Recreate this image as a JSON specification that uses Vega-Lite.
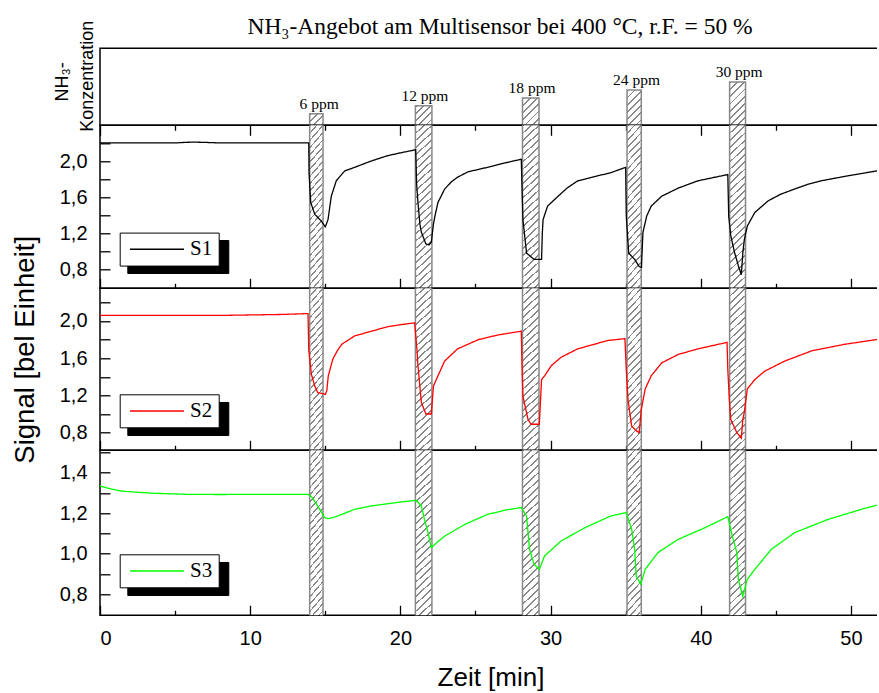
{
 "$schema": "https://vega.github.io/schema/vega-lite/v6.json",
 "background": "white",
 "padding": {"left": 10, "top": 14.3, "right": -5, "bottom": 0},
 "bounds": "flush",
 "spacing": 0,
 "config": {
  "view": {"stroke": "black", "strokeWidth": 1.5},
  "locale": {"number": {"decimal": ",", "thousands": ".", "grouping": [3], "currency": ["", " €"]}},
  "axis": {"labelFont": "Liberation Sans", "titleFont": "Liberation Sans", "labelColor": "black", "titleColor": "black", "tickColor": "black", "tickWidth": 1.3, "titleFontWeight": "normal", "grid": false, "domain": false}
 },
 "resolve": {
  "scale": {"x": "independent", "y": "independent", "color": "independent", "strokeDash": "independent"},
  "legend": {"color": "independent", "strokeDash": "independent"}
 },
 "datasets": {
  "ppm": [
   {"ppm": 6, "start": 13.96, "end": 14.85, "label": "6 ppm"},
   {"ppm": 12, "start": 21.0, "end": 22.1, "label": "12 ppm"},
   {"ppm": 18, "start": 28.13, "end": 29.23, "label": "18 ppm"},
   {"ppm": 24, "start": 35.09, "end": 36.04, "label": "24 ppm"},
   {"ppm": 30, "start": 41.92, "end": 42.98, "label": "30 ppm"}
  ],
  "s1": [
   {"t":0,"v":2.2,"s":"S1"},{"t":1.5,"v":2.2,"s":"S1"},{"t":3,"v":2.2,"s":"S1"},{"t":5,"v":2.2,"s":"S1"},{"t":5.5,"v":2.205,"s":"S1"},{"t":6.2,"v":2.21,"s":"S1"},{"t":7.2,"v":2.205,"s":"S1"},{"t":8,"v":2.2,"s":"S1"},{"t":10,"v":2.2,"s":"S1"},{"t":12,"v":2.2,"s":"S1"},{"t":13.9,"v":2.2,"s":"S1"},
   {"t":13.92,"v":1.87,"s":"S1"},{"t":14.03,"v":1.54,"s":"S1"},{"t":14.3,"v":1.41,"s":"S1"},{"t":14.73,"v":1.335,"s":"S1"},{"t":15.0,"v":1.27,"s":"S1"},{"t":15.18,"v":1.35,"s":"S1"},{"t":15.4,"v":1.61,"s":"S1"},{"t":15.73,"v":1.78,"s":"S1"},{"t":16.29,"v":1.89,"s":"S1"},{"t":16.96,"v":1.93,"s":"S1"},{"t":18.06,"v":2.0,"s":"S1"},{"t":19.17,"v":2.06,"s":"S1"},{"t":20.0,"v":2.09,"s":"S1"},{"t":21.02,"v":2.125,"s":"S1"},
   {"t":21.08,"v":1.75,"s":"S1"},{"t":21.17,"v":1.54,"s":"S1"},{"t":21.3,"v":1.3,"s":"S1"},{"t":21.4,"v":1.21,"s":"S1"},{"t":21.7,"v":1.08,"s":"S1"},{"t":21.9,"v":1.07,"s":"S1"},{"t":22.06,"v":1.1,"s":"S1"},{"t":22.2,"v":1.3,"s":"S1"},{"t":22.3,"v":1.39,"s":"S1"},{"t":22.5,"v":1.54,"s":"S1"},{"t":22.95,"v":1.69,"s":"S1"},{"t":23.4,"v":1.77,"s":"S1"},{"t":23.8,"v":1.82,"s":"S1"},{"t":24.5,"v":1.88,"s":"S1"},{"t":25.8,"v":1.93,"s":"S1"},{"t":27.0,"v":1.98,"s":"S1"},{"t":28.05,"v":2.02,"s":"S1"},
   {"t":28.1,"v":1.7,"s":"S1"},{"t":28.16,"v":1.35,"s":"S1"},{"t":28.4,"v":0.98,"s":"S1"},{"t":28.9,"v":0.91,"s":"S1"},{"t":29.4,"v":0.91,"s":"S1"},{"t":29.45,"v":1.2,"s":"S1"},{"t":29.5,"v":1.35,"s":"S1"},{"t":29.8,"v":1.5,"s":"S1"},{"t":30.5,"v":1.61,"s":"S1"},{"t":31.1,"v":1.7,"s":"S1"},{"t":31.8,"v":1.78,"s":"S1"},{"t":33.0,"v":1.83,"s":"S1"},{"t":34.0,"v":1.87,"s":"S1"},{"t":35.0,"v":1.93,"s":"S1"},
   {"t":35.04,"v":1.39,"s":"S1"},{"t":35.2,"v":0.98,"s":"S1"},{"t":35.6,"v":0.91,"s":"S1"},{"t":35.9,"v":0.83,"s":"S1"},{"t":36.05,"v":0.82,"s":"S1"},{"t":36.15,"v":1.21,"s":"S1"},{"t":36.4,"v":1.39,"s":"S1"},{"t":36.7,"v":1.5,"s":"S1"},{"t":37.4,"v":1.61,"s":"S1"},{"t":38.5,"v":1.7,"s":"S1"},{"t":39.8,"v":1.78,"s":"S1"},{"t":41.8,"v":1.85,"s":"S1"},
   {"t":41.86,"v":1.39,"s":"S1"},{"t":42.0,"v":1.17,"s":"S1"},{"t":42.26,"v":0.98,"s":"S1"},{"t":42.5,"v":0.84,"s":"S1"},{"t":42.7,"v":0.74,"s":"S1"},{"t":42.8,"v":0.98,"s":"S1"},{"t":42.9,"v":1.13,"s":"S1"},{"t":43.1,"v":1.28,"s":"S1"},{"t":43.6,"v":1.43,"s":"S1"},{"t":44.5,"v":1.56,"s":"S1"},{"t":45.3,"v":1.63,"s":"S1"},{"t":46.25,"v":1.69,"s":"S1"},{"t":47.1,"v":1.74,"s":"S1"},{"t":48.0,"v":1.78,"s":"S1"},{"t":49.6,"v":1.83,"s":"S1"},{"t":51.7,"v":1.89,"s":"S1"},{"t":52,"v":1.895,"s":"S1"}
  ],
  "s2": [
   {"t":0,"v":2.06,"s":"S2"},{"t":5,"v":2.06,"s":"S2"},{"t":8,"v":2.06,"s":"S2"},{"t":10,"v":2.065,"s":"S2"},{"t":12,"v":2.07,"s":"S2"},{"t":13.0,"v":2.075,"s":"S2"},{"t":13.85,"v":2.08,"s":"S2"},
   {"t":13.9,"v":1.69,"s":"S2"},{"t":14.07,"v":1.43,"s":"S2"},{"t":14.3,"v":1.3,"s":"S2"},{"t":14.5,"v":1.23,"s":"S2"},{"t":15.0,"v":1.21,"s":"S2"},{"t":15.1,"v":1.25,"s":"S2"},{"t":15.2,"v":1.41,"s":"S2"},{"t":15.5,"v":1.59,"s":"S2"},{"t":15.8,"v":1.68,"s":"S2"},{"t":16.1,"v":1.75,"s":"S2"},{"t":16.96,"v":1.84,"s":"S2"},{"t":18.06,"v":1.89,"s":"S2"},{"t":19.2,"v":1.94,"s":"S2"},{"t":20.0,"v":1.96,"s":"S2"},{"t":20.95,"v":1.98,"s":"S2"},
   {"t":21.1,"v":1.7,"s":"S2"},{"t":21.17,"v":1.52,"s":"S2"},{"t":21.4,"v":1.12,"s":"S2"},{"t":21.7,"v":1.0,"s":"S2"},{"t":22.06,"v":1.0,"s":"S2"},{"t":22.2,"v":1.3,"s":"S2"},{"t":22.5,"v":1.41,"s":"S2"},{"t":22.95,"v":1.57,"s":"S2"},{"t":23.8,"v":1.7,"s":"S2"},{"t":25.2,"v":1.8,"s":"S2"},{"t":26.5,"v":1.85,"s":"S2"},{"t":28.05,"v":1.89,"s":"S2"},
   {"t":28.1,"v":1.5,"s":"S2"},{"t":28.16,"v":1.19,"s":"S2"},{"t":28.5,"v":0.94,"s":"S2"},{"t":28.7,"v":0.89,"s":"S2"},{"t":29.25,"v":0.89,"s":"S2"},{"t":29.4,"v":1.37,"s":"S2"},{"t":29.6,"v":1.41,"s":"S2"},{"t":30.05,"v":1.52,"s":"S2"},{"t":30.7,"v":1.61,"s":"S2"},{"t":31.8,"v":1.7,"s":"S2"},{"t":33.8,"v":1.79,"s":"S2"},{"t":34.95,"v":1.81,"s":"S2"},
   {"t":35.04,"v":1.48,"s":"S2"},{"t":35.15,"v":1.16,"s":"S2"},{"t":35.4,"v":0.87,"s":"S2"},{"t":35.7,"v":0.82,"s":"S2"},{"t":35.9,"v":0.8,"s":"S2"},{"t":36.04,"v":1.05,"s":"S2"},{"t":36.3,"v":1.27,"s":"S2"},{"t":36.7,"v":1.41,"s":"S2"},{"t":37.4,"v":1.55,"s":"S2"},{"t":38.5,"v":1.64,"s":"S2"},{"t":39.8,"v":1.7,"s":"S2"},{"t":41.75,"v":1.77,"s":"S2"},
   {"t":41.8,"v":1.48,"s":"S2"},{"t":41.9,"v":1.16,"s":"S2"},{"t":42.0,"v":0.94,"s":"S2"},{"t":42.4,"v":0.8,"s":"S2"},{"t":42.7,"v":0.74,"s":"S2"},{"t":42.8,"v":0.94,"s":"S2"},{"t":42.9,"v":1.02,"s":"S2"},{"t":43.1,"v":1.27,"s":"S2"},{"t":43.6,"v":1.37,"s":"S2"},{"t":44.25,"v":1.46,"s":"S2"},{"t":45.6,"v":1.57,"s":"S2"},{"t":47.4,"v":1.68,"s":"S2"},{"t":49.6,"v":1.75,"s":"S2"},{"t":51.7,"v":1.8,"s":"S2"},{"t":52,"v":1.8,"s":"S2"}
  ],
  "s3": [
   {"t":0,"v":1.334,"s":"S3"},{"t":0.7,"v":1.32,"s":"S3"},{"t":1.4,"v":1.309,"s":"S3"},{"t":2.5,"v":1.303,"s":"S3"},{"t":3.6,"v":1.298,"s":"S3"},{"t":5.8,"v":1.293,"s":"S3"},{"t":8,"v":1.292,"s":"S3"},{"t":10.3,"v":1.293,"s":"S3"},{"t":13.85,"v":1.293,"s":"S3"},
   {"t":14.1,"v":1.28,"s":"S3"},{"t":14.5,"v":1.235,"s":"S3"},{"t":14.96,"v":1.178,"s":"S3"},{"t":15.2,"v":1.173,"s":"S3"},{"t":15.6,"v":1.18,"s":"S3"},{"t":16.1,"v":1.194,"s":"S3"},{"t":16.96,"v":1.219,"s":"S3"},{"t":18.0,"v":1.235,"s":"S3"},{"t":19.2,"v":1.247,"s":"S3"},{"t":20.0,"v":1.255,"s":"S3"},{"t":21.06,"v":1.263,"s":"S3"},
   {"t":21.4,"v":1.235,"s":"S3"},{"t":21.6,"v":1.17,"s":"S3"},{"t":21.84,"v":1.104,"s":"S3"},{"t":22.06,"v":1.03,"s":"S3"},{"t":22.5,"v":1.06,"s":"S3"},{"t":22.95,"v":1.087,"s":"S3"},{"t":24.3,"v":1.145,"s":"S3"},{"t":25.8,"v":1.194,"s":"S3"},{"t":27.0,"v":1.215,"s":"S3"},{"t":28.05,"v":1.228,"s":"S3"},
   {"t":28.4,"v":1.186,"s":"S3"},{"t":28.6,"v":1.022,"s":"S3"},{"t":28.9,"v":0.948,"s":"S3"},{"t":29.25,"v":0.923,"s":"S3"},{"t":29.6,"v":0.989,"s":"S3"},{"t":30.7,"v":1.063,"s":"S3"},{"t":32.3,"v":1.129,"s":"S3"},{"t":34.0,"v":1.186,"s":"S3"},{"t":35.04,"v":1.203,"s":"S3"},
   {"t":35.4,"v":1.12,"s":"S3"},{"t":35.6,"v":1.022,"s":"S3"},{"t":35.7,"v":0.89,"s":"S3"},{"t":36.0,"v":0.849,"s":"S3"},{"t":36.3,"v":0.923,"s":"S3"},{"t":37.15,"v":1.006,"s":"S3"},{"t":38.5,"v":1.071,"s":"S3"},{"t":40.3,"v":1.129,"s":"S3"},{"t":41.8,"v":1.183,"s":"S3"},
   {"t":42.1,"v":1.087,"s":"S3"},{"t":42.4,"v":1.006,"s":"S3"},{"t":42.5,"v":0.874,"s":"S3"},{"t":42.8,"v":0.79,"s":"S3"},{"t":43.1,"v":0.874,"s":"S3"},{"t":43.6,"v":0.923,"s":"S3"},{"t":44.7,"v":1.022,"s":"S3"},{"t":46.25,"v":1.104,"s":"S3"},{"t":48.5,"v":1.17,"s":"S3"},{"t":50.7,"v":1.219,"s":"S3"},{"t":51.7,"v":1.239,"s":"S3"},{"t":52,"v":1.242,"s":"S3"}
  ]
 },
 "vconcat": [
  {
   "width": 781, "height": 77,
   "title": {"text": "NH₃-Angebot am Multisensor bei 400 °C, r.F. = 50 %", "font": "Liberation Serif", "fontSize": 23.5, "fontWeight": "normal", "color": "black", "anchor": "middle", "frame": "group", "baseline": "alphabetic", "offset": -37.4, "dx": 9.5},
   "data": {"name": "ppm"},
   "resolve": {"axis": {"y": "independent"}},
   "encoding": {
    "x": {"field": "start", "type": "quantitative", "scale": {"domain": [0, 52], "nice": false, "zero": false},
          "axis": {"orient": "bottom", "title": null, "labels": false, "values": [0,5,10,15,20,25,30,35,40,45,50], "tickSize": {"condition": {"test": "datum.value % 10 === 0", "value": 10}, "value": 5}}}
   },
   "layer": [
    {"transform": [{"filter": "datum.ppm === 6"}], "mark": {"type": "rect", "stroke": "#888", "strokeWidth": 1.5, "fill": {"gradient": "linear", "x1": 0, "y1": 0, "x2": 7.731, "y2": 6.655, "stops": [{"offset":0,"color":"#888"},{"offset":0.01,"color":"#888"},{"offset":0.01,"color":"#fff"},{"offset":0.04,"color":"#fff"},{"offset":0.04,"color":"#888"},{"offset":0.05,"color":"#888"},{"offset":0.05,"color":"#fff"},{"offset":0.08,"color":"#fff"},{"offset":0.08,"color":"#888"},{"offset":0.09,"color":"#888"},{"offset":0.09,"color":"#fff"},{"offset":0.12,"color":"#fff"},{"offset":0.12,"color":"#888"},{"offset":0.13,"color":"#888"},{"offset":0.13,"color":"#fff"},{"offset":0.16,"color":"#fff"},{"offset":0.16,"color":"#888"},{"offset":0.17,"color":"#888"},{"offset":0.17,"color":"#fff"},{"offset":0.2,"color":"#fff"}]}},
     "encoding": {"y": {"field": "ppm", "type": "quantitative", "scale": {"domain": [-2.68, 55.4], "nice": false, "zero": false}, "axis": {"orient": "left", "title": "Konzentration", "ticks": false, "labels": false, "titleFontSize": 18, "titleX": -12.5, "titleY": 27.5, "titleAngle": 270, "titleAlign": "center", "titleBaseline": "middle"}}, "x2": {"field": "end"}, "y2": {"datum": -2.68}}},
    {"transform": [{"filter": "datum.ppm === 12"}], "mark": {"type": "rect", "stroke": "#888", "strokeWidth": 1.5, "fill": {"gradient": "linear", "x1": 0, "y1": 0, "x2": 4.563, "y2": 5.376, "stops": [{"offset":0,"color":"#888"},{"offset":0.01,"color":"#888"},{"offset":0.01,"color":"#fff"},{"offset":0.04,"color":"#fff"},{"offset":0.04,"color":"#888"},{"offset":0.05,"color":"#888"},{"offset":0.05,"color":"#fff"},{"offset":0.08,"color":"#fff"},{"offset":0.08,"color":"#888"},{"offset":0.09,"color":"#888"},{"offset":0.09,"color":"#fff"},{"offset":0.12,"color":"#fff"},{"offset":0.12,"color":"#888"},{"offset":0.13,"color":"#888"},{"offset":0.13,"color":"#fff"},{"offset":0.16,"color":"#fff"},{"offset":0.16,"color":"#888"},{"offset":0.17,"color":"#888"},{"offset":0.17,"color":"#fff"},{"offset":0.2,"color":"#fff"},{"offset":0.2,"color":"#888"},{"offset":0.21,"color":"#888"},{"offset":0.21,"color":"#fff"},{"offset":0.24,"color":"#fff"}]}},
     "encoding": {"y": {"field": "ppm", "type": "quantitative", "scale": {"domain": [-2.68, 55.4], "nice": false, "zero": false}, "axis": null}, "x2": {"field": "end"}, "y2": {"datum": -2.68}}},
    {"transform": [{"filter": "datum.ppm === 18"}], "mark": {"type": "rect", "stroke": "#888", "strokeWidth": 1.5, "fill": {"gradient": "linear", "x1": 0, "y1": 0, "x2": 2.902, "y2": 4.816, "stops": [{"offset":0,"color":"#888"},{"offset":0.01,"color":"#888"},{"offset":0.01,"color":"#fff"},{"offset":0.04,"color":"#fff"},{"offset":0.04,"color":"#888"},{"offset":0.05,"color":"#888"},{"offset":0.05,"color":"#fff"},{"offset":0.08,"color":"#fff"},{"offset":0.08,"color":"#888"},{"offset":0.09,"color":"#888"},{"offset":0.09,"color":"#fff"},{"offset":0.12,"color":"#fff"},{"offset":0.12,"color":"#888"},{"offset":0.13,"color":"#888"},{"offset":0.13,"color":"#fff"},{"offset":0.16,"color":"#fff"},{"offset":0.16,"color":"#888"},{"offset":0.17,"color":"#888"},{"offset":0.17,"color":"#fff"},{"offset":0.2,"color":"#fff"},{"offset":0.2,"color":"#888"},{"offset":0.21,"color":"#888"},{"offset":0.21,"color":"#fff"},{"offset":0.24,"color":"#fff"},{"offset":0.24,"color":"#888"},{"offset":0.25,"color":"#888"},{"offset":0.25,"color":"#fff"},{"offset":0.28,"color":"#fff"}]}},
     "encoding": {"y": {"field": "ppm", "type": "quantitative", "scale": {"domain": [-2.68, 55.4], "nice": false, "zero": false}, "axis": null}, "x2": {"field": "end"}, "y2": {"datum": -2.68}}},
    {"transform": [{"filter": "datum.ppm === 24"}], "mark": {"type": "rect", "stroke": "#888", "strokeWidth": 1.5, "fill": {"gradient": "linear", "x1": 0, "y1": 0, "x2": 1.766, "y2": 4.377, "stops": [{"offset":0,"color":"#888"},{"offset":0.01,"color":"#888"},{"offset":0.01,"color":"#fff"},{"offset":0.04,"color":"#fff"},{"offset":0.04,"color":"#888"},{"offset":0.05,"color":"#888"},{"offset":0.05,"color":"#fff"},{"offset":0.08,"color":"#fff"},{"offset":0.08,"color":"#888"},{"offset":0.09,"color":"#888"},{"offset":0.09,"color":"#fff"},{"offset":0.12,"color":"#fff"},{"offset":0.12,"color":"#888"},{"offset":0.13,"color":"#888"},{"offset":0.13,"color":"#fff"},{"offset":0.16,"color":"#fff"},{"offset":0.16,"color":"#888"},{"offset":0.17,"color":"#888"},{"offset":0.17,"color":"#fff"},{"offset":0.2,"color":"#fff"},{"offset":0.2,"color":"#888"},{"offset":0.21,"color":"#888"},{"offset":0.21,"color":"#fff"},{"offset":0.24,"color":"#fff"},{"offset":0.24,"color":"#888"},{"offset":0.25,"color":"#888"},{"offset":0.25,"color":"#fff"},{"offset":0.28,"color":"#fff"},{"offset":0.28,"color":"#888"},{"offset":0.29,"color":"#888"},{"offset":0.29,"color":"#fff"},{"offset":0.32,"color":"#fff"}]}},
     "encoding": {"y": {"field": "ppm", "type": "quantitative", "scale": {"domain": [-2.68, 55.4], "nice": false, "zero": false}, "axis": null}, "x2": {"field": "end"}, "y2": {"datum": -2.68}}},
    {"transform": [{"filter": "datum.ppm === 30"}], "mark": {"type": "rect", "stroke": "#888", "strokeWidth": 1.5, "fill": {"gradient": "linear", "x1": 0, "y1": 0, "x2": 1.345, "y2": 3.66, "stops": [{"offset":0,"color":"#888"},{"offset":0.01,"color":"#888"},{"offset":0.01,"color":"#fff"},{"offset":0.04,"color":"#fff"},{"offset":0.04,"color":"#888"},{"offset":0.05,"color":"#888"},{"offset":0.05,"color":"#fff"},{"offset":0.08,"color":"#fff"},{"offset":0.08,"color":"#888"},{"offset":0.09,"color":"#888"},{"offset":0.09,"color":"#fff"},{"offset":0.12,"color":"#fff"},{"offset":0.12,"color":"#888"},{"offset":0.13,"color":"#888"},{"offset":0.13,"color":"#fff"},{"offset":0.16,"color":"#fff"},{"offset":0.16,"color":"#888"},{"offset":0.17,"color":"#888"},{"offset":0.17,"color":"#fff"},{"offset":0.2,"color":"#fff"},{"offset":0.2,"color":"#888"},{"offset":0.21,"color":"#888"},{"offset":0.21,"color":"#fff"},{"offset":0.24,"color":"#fff"},{"offset":0.24,"color":"#888"},{"offset":0.25,"color":"#888"},{"offset":0.25,"color":"#fff"},{"offset":0.28,"color":"#fff"},{"offset":0.28,"color":"#888"},{"offset":0.29,"color":"#888"},{"offset":0.29,"color":"#fff"},{"offset":0.32,"color":"#fff"},{"offset":0.32,"color":"#888"},{"offset":0.33,"color":"#888"},{"offset":0.33,"color":"#fff"},{"offset":0.36,"color":"#fff"}]}},
     "encoding": {"y": {"field": "ppm", "type": "quantitative", "scale": {"domain": [-2.68, 55.4], "nice": false, "zero": false}, "axis": null}, "x2": {"field": "end"}, "y2": {"datum": -2.68}}},
    {"mark": {"type": "text", "font": "Liberation Serif", "fontSize": 15.5, "baseline": "alphabetic", "align": "center", "dx": 9.5, "dy": -5, "color": "black"},
     "encoding": {"y": {"field": "ppm", "type": "quantitative", "scale": {"domain": [-2.68, 55.4], "nice": false, "zero": false}, "axis": {"orient": "left", "title": "NH₃-", "ticks": false, "labels": false, "titleFontSize": 18, "titleX": -37.5, "titleY": 33, "titleAngle": 270, "titleAlign": "center", "titleBaseline": "middle"}}, "text": {"field": "label"}}}
   ]
  },
  {
   "width": 781, "height": 163,
   "layer": [
    {"data": {"name": "ppm"}, "mark": {"type": "rect", "fill": {"gradient": "linear", "x1": 0, "y1": 0, "x2": 0.1028, "y2": 1.0947, "stops": [{"offset":0,"color":"#888"},{"offset":0.01,"color":"#888"},{"offset":0.01,"color":"#fff"},{"offset":0.04,"color":"#fff"},{"offset":0.04,"color":"#888"},{"offset":0.05,"color":"#888"},{"offset":0.05,"color":"#fff"},{"offset":0.08,"color":"#fff"},{"offset":0.08,"color":"#888"},{"offset":0.09,"color":"#888"},{"offset":0.09,"color":"#fff"},{"offset":0.12,"color":"#fff"},{"offset":0.12,"color":"#888"},{"offset":0.13,"color":"#888"},{"offset":0.13,"color":"#fff"},{"offset":0.16,"color":"#fff"},{"offset":0.16,"color":"#888"},{"offset":0.17,"color":"#888"},{"offset":0.17,"color":"#fff"},{"offset":0.2,"color":"#fff"},{"offset":0.2,"color":"#888"},{"offset":0.21,"color":"#888"},{"offset":0.21,"color":"#fff"},{"offset":0.24,"color":"#fff"},{"offset":0.24,"color":"#888"},{"offset":0.25,"color":"#888"},{"offset":0.25,"color":"#fff"},{"offset":0.28,"color":"#fff"},{"offset":0.28,"color":"#888"},{"offset":0.29,"color":"#888"},{"offset":0.29,"color":"#fff"},{"offset":0.32,"color":"#fff"},{"offset":0.32,"color":"#888"},{"offset":0.33,"color":"#888"},{"offset":0.33,"color":"#fff"},{"offset":0.36,"color":"#fff"},{"offset":0.36,"color":"#888"},{"offset":0.37,"color":"#888"},{"offset":0.37,"color":"#fff"},{"offset":0.4,"color":"#fff"},{"offset":0.4,"color":"#888"},{"offset":0.41,"color":"#888"},{"offset":0.41,"color":"#fff"},{"offset":0.44,"color":"#fff"},{"offset":0.44,"color":"#888"},{"offset":0.45,"color":"#888"},{"offset":0.45,"color":"#fff"},{"offset":0.48,"color":"#fff"},{"offset":0.48,"color":"#888"},{"offset":0.49,"color":"#888"},{"offset":0.49,"color":"#fff"},{"offset":0.52,"color":"#fff"},{"offset":0.52,"color":"#888"},{"offset":0.53,"color":"#888"},{"offset":0.53,"color":"#fff"},{"offset":0.56,"color":"#fff"},{"offset":0.56,"color":"#888"},{"offset":0.57,"color":"#888"},{"offset":0.57,"color":"#fff"},{"offset":0.6,"color":"#fff"},{"offset":0.6,"color":"#888"},{"offset":0.61,"color":"#888"},{"offset":0.61,"color":"#fff"},{"offset":0.64,"color":"#fff"},{"offset":0.64,"color":"#888"},{"offset":0.65,"color":"#888"},{"offset":0.65,"color":"#fff"},{"offset":0.68,"color":"#fff"},{"offset":0.68,"color":"#888"},{"offset":0.69,"color":"#888"},{"offset":0.69,"color":"#fff"},{"offset":0.72,"color":"#fff"},{"offset":0.72,"color":"#888"},{"offset":0.73,"color":"#888"},{"offset":0.73,"color":"#fff"},{"offset":0.76,"color":"#fff"},{"offset":0.76,"color":"#888"},{"offset":0.77,"color":"#888"},{"offset":0.77,"color":"#fff"},{"offset":0.8,"color":"#fff"},{"offset":0.8,"color":"#888"},{"offset":0.81,"color":"#888"},{"offset":0.81,"color":"#fff"},{"offset":0.84,"color":"#fff"},{"offset":0.84,"color":"#888"},{"offset":0.85,"color":"#888"},{"offset":0.85,"color":"#fff"},{"offset":0.88,"color":"#fff"},{"offset":0.88,"color":"#888"},{"offset":0.89,"color":"#888"},{"offset":0.89,"color":"#fff"},{"offset":0.92,"color":"#fff"},{"offset":0.92,"color":"#888"},{"offset":0.93,"color":"#888"},{"offset":0.93,"color":"#fff"},{"offset":0.96,"color":"#fff"},{"offset":0.96,"color":"#888"},{"offset":0.97,"color":"#888"},{"offset":0.97,"color":"#fff"},{"offset":1,"color":"#fff"}]}},
     "encoding": {"x": {"field": "start", "type": "quantitative", "scale": {"domain": [0, 52], "nice": false, "zero": false}, "axis": {"orient": "bottom", "title": null, "labels": false, "values": [0,5,10,15,20,25,30,35,40,45,50], "tickSize": {"condition": {"test": "datum.value % 10 === 0", "value": -10}, "value": -5}}}, "x2": {"field": "end"}}},
    {"data": {"name": "ppm"}, "mark": {"type": "rule", "color": "#888", "strokeWidth": 1.5}, "encoding": {"x": {"field": "start", "type": "quantitative", "scale": {"domain": [0, 52], "nice": false, "zero": false}}}},
    {"data": {"name": "ppm"}, "mark": {"type": "rule", "color": "#888", "strokeWidth": 1.5}, "encoding": {"x": {"field": "end", "type": "quantitative", "scale": {"domain": [0, 52], "nice": false, "zero": false}}}},
    {"data": {"name": "s1"}, "mark": {"type": "line", "strokeWidth": 1.3, "clip": true},
     "encoding": {
      "x": {"field": "t", "type": "quantitative", "scale": {"domain": [0, 52], "nice": false, "zero": false}},
      "y": {"field": "v", "type": "quantitative", "scale": {"domain": [0.5895, 2.3956], "nice": false, "zero": false},
            "axis": {"title": null, "values": [0.8,1.0,1.2,1.4,1.6,1.8,2.0,2.2], "format": ".1f", "labelExpr": "round(datum.value*10) % 4 === 0 ? datum.label : ''", "tickSize": -10, "labelPadding": 23, "labelFontSize": 20}},
      "color": {"field": "s", "type": "nominal", "scale": {"domain": ["S1"], "range": ["black"]},
                "legend": {"orient": "none", "legendX": 19.7, "legendY": 107.3, "title": null, "fillColor": "white", "strokeColor": "black", "padding": 5.7, "symbolType": "M-2.7,0H2.7", "symbolSize": 400, "symbolStrokeWidth": 1.5, "symbolOffset": 20.6, "labelOffset": 22, "labelFont": "Liberation Serif", "labelFontSize": 21, "labelColor": "black", "zindex": 2}},
      "strokeDash": {"field": "s", "type": "nominal", "scale": {"domain": ["S1", "_"], "range": [[1, 0], [1, 0]]},
                "legend": {"orient": "none", "legendX": 27.3, "legendY": 114.7, "title": null, "values": ["S1"], "fillColor": "black", "strokeColor": "black", "padding": 5.7, "symbolType": "M-2.7,0H5.42", "symbolSize": 400, "symbolStrokeWidth": 1.5, "symbolStrokeColor": "black", "symbolOffset": 20.6, "labelOffset": 22, "labelFont": "Liberation Serif", "labelFontSize": 21, "labelColor": "black", "labelExpr": "''", "zindex": 1}}
     }}
   ]
  },
  {
   "width": 781, "height": 162,
   "layer": [
    {"data": {"name": "ppm"}, "mark": {"type": "rect", "fill": {"gradient": "linear", "x1": 0, "y1": 0, "x2": 0.1028, "y2": 1.0947, "stops": [{"offset":0,"color":"#888"},{"offset":0.01,"color":"#888"},{"offset":0.01,"color":"#fff"},{"offset":0.04,"color":"#fff"},{"offset":0.04,"color":"#888"},{"offset":0.05,"color":"#888"},{"offset":0.05,"color":"#fff"},{"offset":0.08,"color":"#fff"},{"offset":0.08,"color":"#888"},{"offset":0.09,"color":"#888"},{"offset":0.09,"color":"#fff"},{"offset":0.12,"color":"#fff"},{"offset":0.12,"color":"#888"},{"offset":0.13,"color":"#888"},{"offset":0.13,"color":"#fff"},{"offset":0.16,"color":"#fff"},{"offset":0.16,"color":"#888"},{"offset":0.17,"color":"#888"},{"offset":0.17,"color":"#fff"},{"offset":0.2,"color":"#fff"},{"offset":0.2,"color":"#888"},{"offset":0.21,"color":"#888"},{"offset":0.21,"color":"#fff"},{"offset":0.24,"color":"#fff"},{"offset":0.24,"color":"#888"},{"offset":0.25,"color":"#888"},{"offset":0.25,"color":"#fff"},{"offset":0.28,"color":"#fff"},{"offset":0.28,"color":"#888"},{"offset":0.29,"color":"#888"},{"offset":0.29,"color":"#fff"},{"offset":0.32,"color":"#fff"},{"offset":0.32,"color":"#888"},{"offset":0.33,"color":"#888"},{"offset":0.33,"color":"#fff"},{"offset":0.36,"color":"#fff"},{"offset":0.36,"color":"#888"},{"offset":0.37,"color":"#888"},{"offset":0.37,"color":"#fff"},{"offset":0.4,"color":"#fff"},{"offset":0.4,"color":"#888"},{"offset":0.41,"color":"#888"},{"offset":0.41,"color":"#fff"},{"offset":0.44,"color":"#fff"},{"offset":0.44,"color":"#888"},{"offset":0.45,"color":"#888"},{"offset":0.45,"color":"#fff"},{"offset":0.48,"color":"#fff"},{"offset":0.48,"color":"#888"},{"offset":0.49,"color":"#888"},{"offset":0.49,"color":"#fff"},{"offset":0.52,"color":"#fff"},{"offset":0.52,"color":"#888"},{"offset":0.53,"color":"#888"},{"offset":0.53,"color":"#fff"},{"offset":0.56,"color":"#fff"},{"offset":0.56,"color":"#888"},{"offset":0.57,"color":"#888"},{"offset":0.57,"color":"#fff"},{"offset":0.6,"color":"#fff"},{"offset":0.6,"color":"#888"},{"offset":0.61,"color":"#888"},{"offset":0.61,"color":"#fff"},{"offset":0.64,"color":"#fff"},{"offset":0.64,"color":"#888"},{"offset":0.65,"color":"#888"},{"offset":0.65,"color":"#fff"},{"offset":0.68,"color":"#fff"},{"offset":0.68,"color":"#888"},{"offset":0.69,"color":"#888"},{"offset":0.69,"color":"#fff"},{"offset":0.72,"color":"#fff"},{"offset":0.72,"color":"#888"},{"offset":0.73,"color":"#888"},{"offset":0.73,"color":"#fff"},{"offset":0.76,"color":"#fff"},{"offset":0.76,"color":"#888"},{"offset":0.77,"color":"#888"},{"offset":0.77,"color":"#fff"},{"offset":0.8,"color":"#fff"},{"offset":0.8,"color":"#888"},{"offset":0.81,"color":"#888"},{"offset":0.81,"color":"#fff"},{"offset":0.84,"color":"#fff"},{"offset":0.84,"color":"#888"},{"offset":0.85,"color":"#888"},{"offset":0.85,"color":"#fff"},{"offset":0.88,"color":"#fff"},{"offset":0.88,"color":"#888"},{"offset":0.89,"color":"#888"},{"offset":0.89,"color":"#fff"},{"offset":0.92,"color":"#fff"},{"offset":0.92,"color":"#888"},{"offset":0.93,"color":"#888"},{"offset":0.93,"color":"#fff"},{"offset":0.96,"color":"#fff"},{"offset":0.96,"color":"#888"},{"offset":0.97,"color":"#888"},{"offset":0.97,"color":"#fff"},{"offset":1,"color":"#fff"}]}},
     "encoding": {"x": {"field": "start", "type": "quantitative", "scale": {"domain": [0, 52], "nice": false, "zero": false}, "axis": {"orient": "bottom", "title": null, "labels": false, "values": [0,5,10,15,20,25,30,35,40,45,50], "tickSize": {"condition": {"test": "datum.value % 10 === 0", "value": -10}, "value": -5}}}, "x2": {"field": "end"}}},
    {"data": {"name": "ppm"}, "mark": {"type": "rule", "color": "#888", "strokeWidth": 1.5}, "encoding": {"x": {"field": "start", "type": "quantitative", "scale": {"domain": [0, 52], "nice": false, "zero": false}}}},
    {"data": {"name": "ppm"}, "mark": {"type": "rule", "color": "#888", "strokeWidth": 1.5}, "encoding": {"x": {"field": "end", "type": "quantitative", "scale": {"domain": [0, 52], "nice": false, "zero": false}}}},
    {"data": {"name": "s2"}, "mark": {"type": "line", "strokeWidth": 1.3, "clip": true},
     "encoding": {
      "x": {"field": "t", "type": "quantitative", "scale": {"domain": [0, 52], "nice": false, "zero": false}},
      "y": {"field": "v", "type": "quantitative", "scale": {"domain": [0.6097, 2.3516], "nice": false, "zero": false},
            "axis": {"title": "Signal [bel Einheit]", "titleFontSize": 27.5, "titleX": -74.5, "titleY": 61, "titleAngle": 270, "titleAlign": "center", "titleBaseline": "middle", "values": [0.8,1.0,1.2,1.4,1.6,1.8,2.0,2.2], "format": ".1f", "labelExpr": "round(datum.value*10) % 4 === 0 ? datum.label : ''", "tickSize": -10, "labelPadding": 23, "labelFontSize": 20}},
      "color": {"field": "s", "type": "nominal", "scale": {"domain": ["S2"], "range": ["#ff0000"]},
                "legend": {"orient": "none", "legendX": 19.7, "legendY": 106, "title": null, "fillColor": "white", "strokeColor": "black", "padding": 5.7, "symbolType": "M-2.7,0H2.7", "symbolSize": 400, "symbolStrokeWidth": 1.5, "symbolOffset": 20.6, "labelOffset": 22, "labelFont": "Liberation Serif", "labelFontSize": 21, "labelColor": "black", "zindex": 2}},
      "strokeDash": {"field": "s", "type": "nominal", "scale": {"domain": ["S2", "_"], "range": [[1, 0], [1, 0]]},
                "legend": {"orient": "none", "legendX": 27.3, "legendY": 113.7, "title": null, "values": ["S2"], "fillColor": "black", "strokeColor": "black", "padding": 5.7, "symbolType": "M-2.7,0H5.42", "symbolSize": 400, "symbolStrokeWidth": 1.5, "symbolStrokeColor": "black", "symbolOffset": 20.6, "labelOffset": 22, "labelFont": "Liberation Serif", "labelFontSize": 21, "labelColor": "black", "labelExpr": "''", "zindex": 1}}
     }}
   ]
  },
  {
   "width": 781, "height": 165,
   "layer": [
    {"data": {"name": "ppm"}, "mark": {"type": "rect", "fill": {"gradient": "linear", "x1": 0, "y1": 0, "x2": 0.1028, "y2": 1.0947, "stops": [{"offset":0,"color":"#888"},{"offset":0.01,"color":"#888"},{"offset":0.01,"color":"#fff"},{"offset":0.04,"color":"#fff"},{"offset":0.04,"color":"#888"},{"offset":0.05,"color":"#888"},{"offset":0.05,"color":"#fff"},{"offset":0.08,"color":"#fff"},{"offset":0.08,"color":"#888"},{"offset":0.09,"color":"#888"},{"offset":0.09,"color":"#fff"},{"offset":0.12,"color":"#fff"},{"offset":0.12,"color":"#888"},{"offset":0.13,"color":"#888"},{"offset":0.13,"color":"#fff"},{"offset":0.16,"color":"#fff"},{"offset":0.16,"color":"#888"},{"offset":0.17,"color":"#888"},{"offset":0.17,"color":"#fff"},{"offset":0.2,"color":"#fff"},{"offset":0.2,"color":"#888"},{"offset":0.21,"color":"#888"},{"offset":0.21,"color":"#fff"},{"offset":0.24,"color":"#fff"},{"offset":0.24,"color":"#888"},{"offset":0.25,"color":"#888"},{"offset":0.25,"color":"#fff"},{"offset":0.28,"color":"#fff"},{"offset":0.28,"color":"#888"},{"offset":0.29,"color":"#888"},{"offset":0.29,"color":"#fff"},{"offset":0.32,"color":"#fff"},{"offset":0.32,"color":"#888"},{"offset":0.33,"color":"#888"},{"offset":0.33,"color":"#fff"},{"offset":0.36,"color":"#fff"},{"offset":0.36,"color":"#888"},{"offset":0.37,"color":"#888"},{"offset":0.37,"color":"#fff"},{"offset":0.4,"color":"#fff"},{"offset":0.4,"color":"#888"},{"offset":0.41,"color":"#888"},{"offset":0.41,"color":"#fff"},{"offset":0.44,"color":"#fff"},{"offset":0.44,"color":"#888"},{"offset":0.45,"color":"#888"},{"offset":0.45,"color":"#fff"},{"offset":0.48,"color":"#fff"},{"offset":0.48,"color":"#888"},{"offset":0.49,"color":"#888"},{"offset":0.49,"color":"#fff"},{"offset":0.52,"color":"#fff"},{"offset":0.52,"color":"#888"},{"offset":0.53,"color":"#888"},{"offset":0.53,"color":"#fff"},{"offset":0.56,"color":"#fff"},{"offset":0.56,"color":"#888"},{"offset":0.57,"color":"#888"},{"offset":0.57,"color":"#fff"},{"offset":0.6,"color":"#fff"},{"offset":0.6,"color":"#888"},{"offset":0.61,"color":"#888"},{"offset":0.61,"color":"#fff"},{"offset":0.64,"color":"#fff"},{"offset":0.64,"color":"#888"},{"offset":0.65,"color":"#888"},{"offset":0.65,"color":"#fff"},{"offset":0.68,"color":"#fff"},{"offset":0.68,"color":"#888"},{"offset":0.69,"color":"#888"},{"offset":0.69,"color":"#fff"},{"offset":0.72,"color":"#fff"},{"offset":0.72,"color":"#888"},{"offset":0.73,"color":"#888"},{"offset":0.73,"color":"#fff"},{"offset":0.76,"color":"#fff"},{"offset":0.76,"color":"#888"},{"offset":0.77,"color":"#888"},{"offset":0.77,"color":"#fff"},{"offset":0.8,"color":"#fff"},{"offset":0.8,"color":"#888"},{"offset":0.81,"color":"#888"},{"offset":0.81,"color":"#fff"},{"offset":0.84,"color":"#fff"},{"offset":0.84,"color":"#888"},{"offset":0.85,"color":"#888"},{"offset":0.85,"color":"#fff"},{"offset":0.88,"color":"#fff"},{"offset":0.88,"color":"#888"},{"offset":0.89,"color":"#888"},{"offset":0.89,"color":"#fff"},{"offset":0.92,"color":"#fff"},{"offset":0.92,"color":"#888"},{"offset":0.93,"color":"#888"},{"offset":0.93,"color":"#fff"},{"offset":0.96,"color":"#fff"},{"offset":0.96,"color":"#888"},{"offset":0.97,"color":"#888"},{"offset":0.97,"color":"#fff"},{"offset":1,"color":"#fff"}]}},
     "encoding": {"x": {"field": "start", "type": "quantitative", "scale": {"domain": [0, 52], "nice": false, "zero": false}, "axis": {"orient": "bottom", "title": "Zeit [min]", "titleFontSize": 26, "titleY": 70.7, "titleBaseline": "alphabetic", "labelFontSize": 20, "labelPadding": 23.5, "values": [0,5,10,15,20,25,30,35,40,45,50], "labelExpr": "datum.value % 10 === 0 ? datum.label : ''", "tickSize": {"condition": {"test": "datum.value % 10 === 0", "value": -10}, "value": -5}}}, "x2": {"field": "end"}}},
    {"data": {"name": "ppm"}, "mark": {"type": "rule", "color": "#888", "strokeWidth": 1.5}, "encoding": {"x": {"field": "start", "type": "quantitative", "scale": {"domain": [0, 52], "nice": false, "zero": false}}}},
    {"data": {"name": "ppm"}, "mark": {"type": "rule", "color": "#888", "strokeWidth": 1.5}, "encoding": {"x": {"field": "end", "type": "quantitative", "scale": {"domain": [0, 52], "nice": false, "zero": false}}}},
    {"data": {"name": "s3"}, "mark": {"type": "line", "strokeWidth": 1.3, "clip": true},
     "encoding": {
      "x": {"field": "t", "type": "quantitative", "scale": {"domain": [0, 52], "nice": false, "zero": false}},
      "y": {"field": "v", "type": "quantitative", "scale": {"domain": [0.6965, 1.51], "nice": false, "zero": false},
            "axis": {"title": null, "values": [0.8,0.9,1.0,1.1,1.2,1.3,1.4,1.5], "format": ".1f", "labelExpr": "round(datum.value*10) % 2 === 0 ? datum.label : ''", "tickSize": -10, "labelPadding": 23, "labelFontSize": 20}},
      "color": {"field": "s", "type": "nominal", "scale": {"domain": ["S3"], "range": ["#00ff00"]},
                "legend": {"orient": "none", "legendX": 19.7, "legendY": 104, "title": null, "fillColor": "white", "strokeColor": "black", "padding": 5.7, "symbolType": "M-2.7,0H2.7", "symbolSize": 400, "symbolStrokeWidth": 1.5, "symbolOffset": 20.6, "labelOffset": 22, "labelFont": "Liberation Serif", "labelFontSize": 21, "labelColor": "black", "zindex": 2}},
      "strokeDash": {"field": "s", "type": "nominal", "scale": {"domain": ["S3", "_"], "range": [[1, 0], [1, 0]]},
                "legend": {"orient": "none", "legendX": 27.3, "legendY": 111.7, "title": null, "values": ["S3"], "fillColor": "black", "strokeColor": "black", "padding": 5.7, "symbolType": "M-2.7,0H5.42", "symbolSize": 400, "symbolStrokeWidth": 1.5, "symbolStrokeColor": "black", "symbolOffset": 20.6, "labelOffset": 22, "labelFont": "Liberation Serif", "labelFontSize": 21, "labelColor": "black", "labelExpr": "''", "zindex": 1}}
     }}
   ]
  }
 ]
}
